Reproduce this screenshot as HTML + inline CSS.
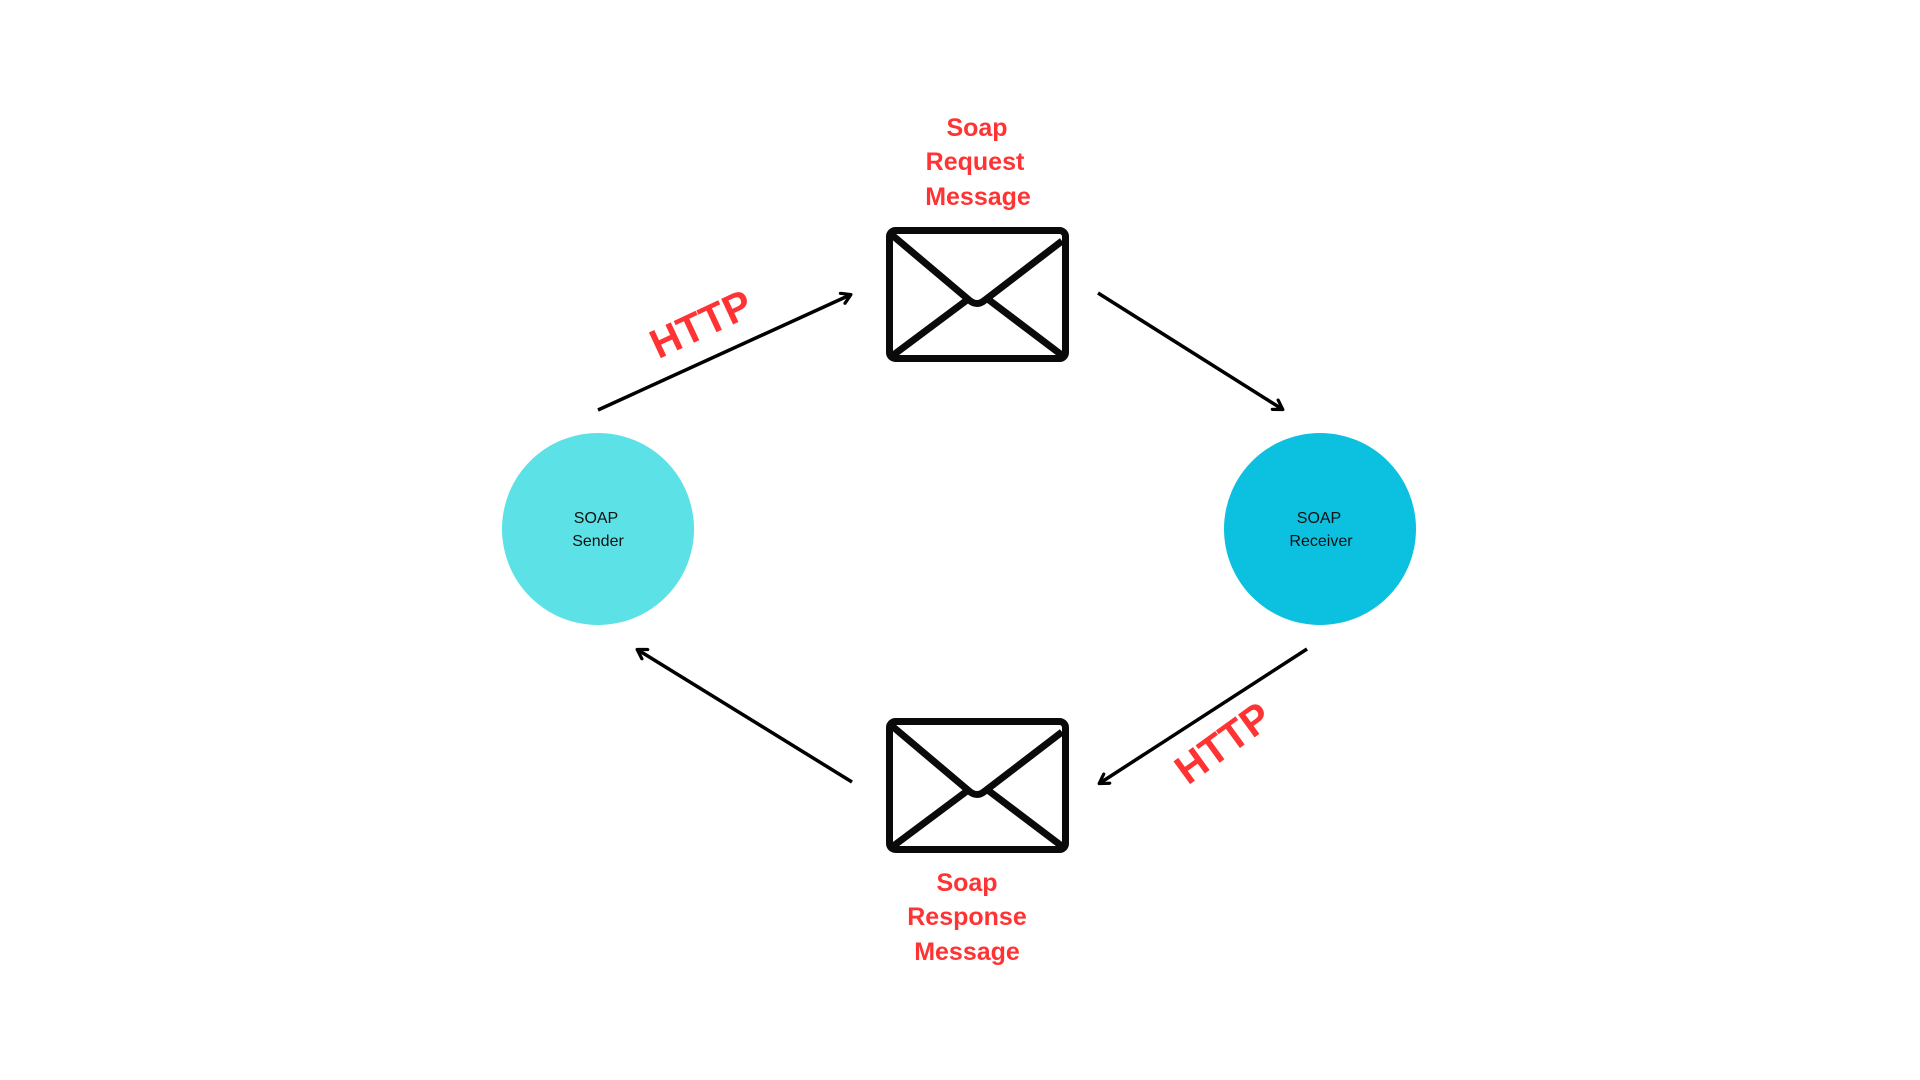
<!DOCTYPE html>
<html><head><meta charset="utf-8"><style>
html,body{margin:0;padding:0;background:#fff;width:1920px;height:1080px;overflow:hidden}
</style></head><body>
<svg width="1920" height="1080" viewBox="0 0 1920 1080" xmlns="http://www.w3.org/2000/svg">
<defs>
<marker id="a" markerWidth="14" markerHeight="14" refX="10" refY="7" orient="auto" markerUnits="userSpaceOnUse">
<path d="M2,1.5 L11,7 L2,12.5" fill="none" stroke="#000" stroke-width="3.2" stroke-linecap="round" stroke-linejoin="round"/>
</marker>
<g id="env">
<rect x="3.5" y="3.5" width="176" height="128" rx="6" fill="none" stroke="#0a0a0a" stroke-width="7"/>
<path d="M6,8 L83,73 Q91,80 99,73 L176,14" fill="none" stroke="#0a0a0a" stroke-width="7" stroke-linejoin="round"/>
<path d="M6,129 L81,73 M177,129 L103,73" fill="none" stroke="#0a0a0a" stroke-width="7"/>
</g>
</defs>
<circle cx="598" cy="529" r="96" fill="#5ce1e6"/>
<circle cx="1320" cy="529" r="96" fill="#0cc0df"/>
<g font-family="Liberation Sans, sans-serif" font-size="16" fill="#111" text-anchor="middle">
<text x="596" y="523">SOAP</text><text x="598" y="546">Sender</text>
<text x="1319" y="523">SOAP</text><text x="1321" y="546">Receiver</text>
</g>
<use href="#env" x="886" y="227"/>
<use href="#env" x="886" y="718"/>
<g stroke="#000" stroke-width="3.5" fill="none" marker-end="url(#a)">
<line x1="598" y1="410" x2="850" y2="295"/>
<line x1="1098" y1="293" x2="1282" y2="409"/>
<line x1="1307" y1="649" x2="1100" y2="783"/>
<line x1="852" y1="782" x2="638" y2="650"/>
</g>
<g font-family="Liberation Sans, sans-serif" font-weight="bold" fill="#ff3333" text-anchor="middle">
<g font-size="25">
<text x="977" y="136">Soap</text><text x="975" y="170">Request</text><text x="978" y="205">Message</text>
<text x="967" y="891">Soap</text><text x="967" y="925">Response</text><text x="967" y="960">Message</text>
</g>
<text x="701" y="338" font-size="41" transform="rotate(-25 701 324)">HTTP</text>
<text x="1223" y="757" font-size="41" transform="rotate(-36 1223 743)">HTTP</text>
</g>
</svg>
</body></html>
